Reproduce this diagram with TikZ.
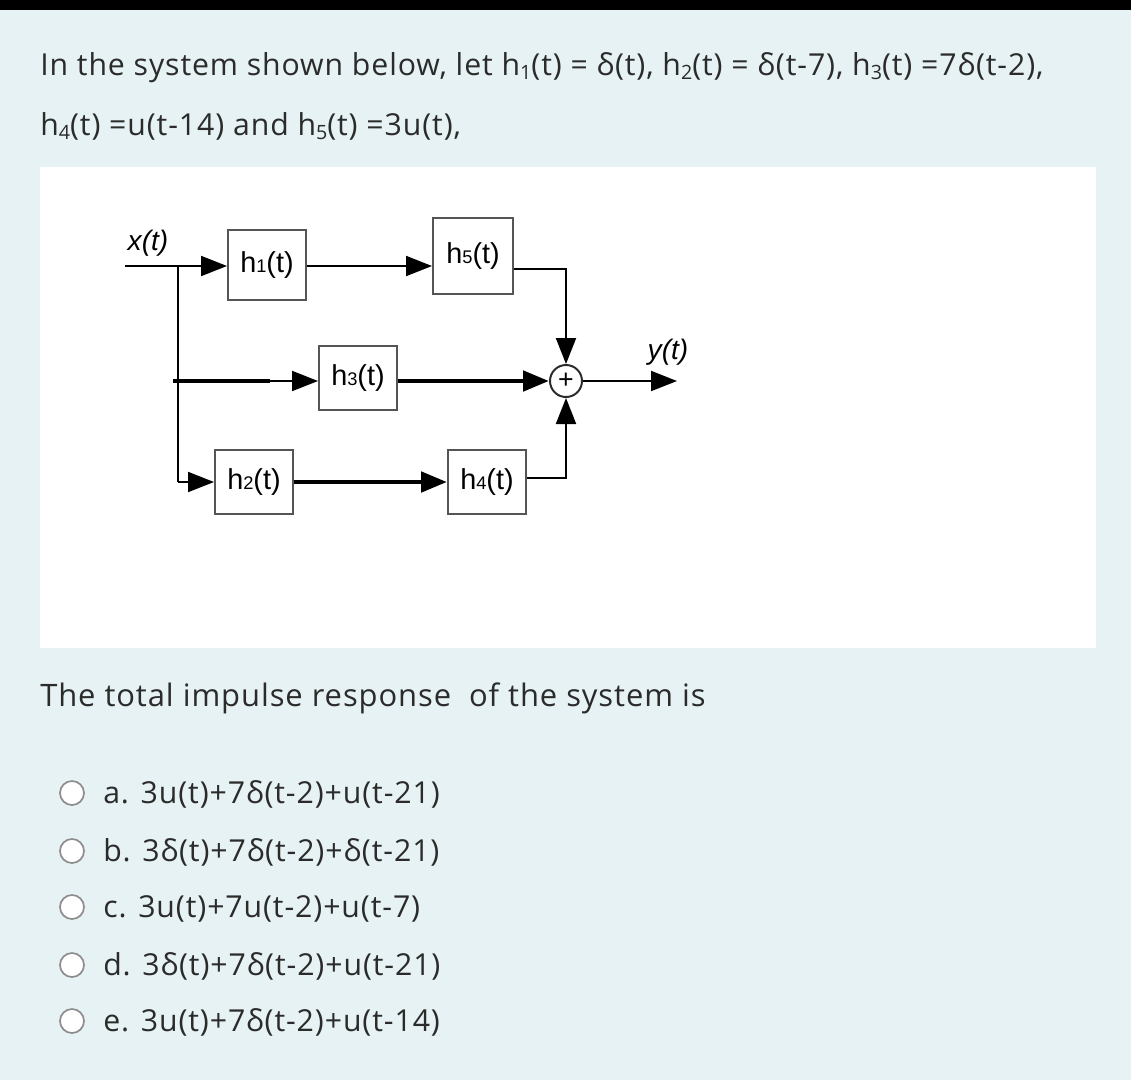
\documentclass[tikz,border=0pt]{standalone}
\usepackage{fontspec}
\setmainfont[LetterSpace=3]{Open Sans}
\newfontfamily\diagfont{Liberation Sans}
\usetikzlibrary{arrows.meta}
\definecolor{pagebg}{HTML}{E6F2F3}
\definecolor{ink}{HTML}{2B2B2B}
\definecolor{boxgray}{HTML}{555555}
\definecolor{radiogray}{HTML}{8C8C8C}
% lowered index in the question text, small index in the blocks
\newcommand{\qsub}[1]{\raisebox{-0.3ex}{\fontsize{14}{14}\selectfont #1}}
\newcommand{\bsub}[1]{{\fontsize{13}{13}\selectfont #1}}

\begin{document}
\begin{tikzpicture}[x=0.025cm, y=-0.025cm,
  every node/.style={inner sep=0pt},
  qtext/.style={font=\fontsize{21.5}{25}\selectfont, text=ink, anchor=base west},
  block/.style={draw=boxgray, line width=1.4pt, fill=white, minimum width=1.95cm,
    minimum height=1.6cm, font=\diagfont\fontsize{20.5}{24}\selectfont},
  siglabel/.style={font=\diagfont\itshape\fontsize{20}{24}\selectfont},
  wire/.style={line width=1.4pt},
  thickwire/.style={line width=3.5pt},
  arr/.style={-{Triangle[length=0.65cm, width=0.5cm]}},
  radio/.style={circle, draw=radiogray, fill=white, line width=1.2pt, minimum size=0.6cm}]
  % Page, top bar and diagram panel
  \fill[pagebg] (0,0) rectangle (1131,1080);
  \fill[black] (0,0) rectangle (1131,10);
  \fill[white] (40,167) rectangle (1096,648);

  % Question text
  \node[qtext] (lineone) at (40,75) {In the system shown below, let h\qsub{1}(t) = δ(t), h\qsub{2}(t) = δ(t-7), h\qsub{3}(t) =7δ(t-2),};
  \node[qtext] (linetwo) at (40,135) {h\qsub{4}(t) =u(t-14) and h\qsub{5}(t) =3u(t),};

  % Blocks
  \node[block, minimum height=1.75cm] (hone) at (267,265) {h\bsub{1}(t)};
  \node[block, minimum height=1.9cm, minimum width=2cm] (hfive) at (473,256) {h\bsub{5}(t)};
  \node[block] (hthree) at (358,378) {h\bsub{3}(t)};
  \node[block] (htwo) at (254,482) {h\bsub{2}(t)};
  \node[block] (hfour) at (487,482) {h\bsub{4}(t)};
  \node[circle, draw=ink, line width=1.4pt, fill=white, minimum size=0.8cm,
    font=\diagfont\fontsize{19}{19}\selectfont] (sum) at (566,381) {+};
  \node[siglabel] (xlabel) at (148,243) {x(t)};
  \node[siglabel] (ylabel) at (668,352) {y(t)};

  % Wires
  \coordinate (xin) at (125,266);
  \coordinate (split) at (178,266);
  \coordinate (tap) at (173,381);
  \coordinate (tapend) at (270,381);
  \coordinate (yout) at (677,381);
  \draw[wire] (xin) -- (split) -- (split |- htwo);
  \draw[wire, arr] (split) -- (hone.west |- split);
  \draw[wire, arr] (hone.east |- split) -- (hfive.west |- split);
  \draw[wire, arr] ([yshift=-0.325cm]hfive.east) -| (sum.north);
  \draw[thickwire] (tap) -- (tapend);
  \draw[wire, arr] (tapend) -- (hthree.west |- tapend);
  \draw[thickwire, arr] (hthree.east |- tapend) -- (sum.west);
  \draw[wire, arr] (split |- htwo) -- (htwo.west);
  \draw[thickwire, arr] (htwo.east) -- (hfour.west);
  \draw[wire, arr] ([yshift=0.1cm]hfour.east) -| (sum.south);
  \draw[wire, arr] (sum.east) -- (yout);

  % Answer choices
  \node[qtext, font=\fontsize{22}{26}\selectfont] (question) at (40,706) {The total impulse response\ \ of the system is};
  \foreach \n/\y/\txt in {a/803/{3u(t)+7δ(t-2)+u(t-21)}, b/861/{3δ(t)+7δ(t-2)+δ(t-21)},
      c/917/{3u(t)+7u(t-2)+u(t-7)}, d/975/{3δ(t)+7δ(t-2)+u(t-21)}, e/1031/{3u(t)+7δ(t-2)+u(t-14)}}{
    \node[radio] (radio\n) at (72,\y-10) {};
    \node[qtext] (opt\n) at (103,\y) {\n. \txt};
  }
\end{tikzpicture}
\end{document}
